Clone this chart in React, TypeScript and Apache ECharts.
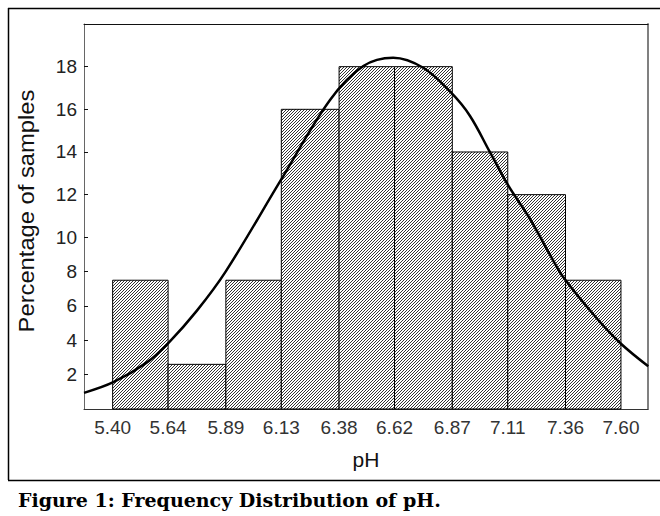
import React, { useEffect, useRef } from "react";
import * as echarts from "echarts";

// Histogram bins (pH class edges) and percentage of samples per bin
const binEdges = [5.4, 5.64, 5.89, 6.13, 6.38, 6.62, 6.87, 7.11, 7.36, 7.6];
const binPercent = [7.5, 2.6, 7.5, 16, 18, 18, 14, 12, 7.5];

// Fitted distribution curve
const curvePH = [5.276, 5.403, 5.547, 5.641, 5.763, 5.889, 6.131, 6.34, 6.485, 6.614, 6.744, 6.864, 6.946, 7.033, 7.112, 7.206, 7.292, 7.354, 7.494, 7.6, 7.718];
const curvePct = [0.94, 1.56, 2.7, 3.84, 5.7, 8.0, 12.74, 16.43, 18.03, 18.42, 17.95, 16.79, 15.7, 13.99, 12.43, 10.87, 9.0, 7.61, 5.3, 3.8, 2.49];

const yTicks = [2, 4, 6, 8, 10, 12, 14, 16, 18];
const yTop = 20;
const xMin = 5.276;
const xMax = 7.717;

// The original y axis is piecewise linear: 0-10 is compressed relative to 10-20
const BREAK = 10;
const LOWER_STEP = 17.25;
const UPPER_STEP = 21.43;
const warp = (v: number) => (v <= BREAK ? v * LOWER_STEP : BREAK * LOWER_STEP + (v - BREAK) * UPPER_STEP);
const unwarp = (u: number) => (u <= BREAK * LOWER_STEP ? u / LOWER_STEP : BREAK + (u - BREAK * LOWER_STEP) / UPPER_STEP);

export default function App() {
  const ref = useRef<HTMLDivElement>(null);
  useEffect(() => {
    const chart = echarts.init(ref.current!, null, { renderer: "svg" });
    const tile = document.createElement("canvas");
    tile.width = 3;
    tile.height = 3;
    const ctx = tile.getContext("2d")!;
    ctx.fillStyle = "#ffffff";
    ctx.fillRect(0, 0, 3, 3);
    ctx.fillStyle = "#333333";
    for (let i = 0; i < 3; i++) ctx.fillRect(i, 2 - i, 1, 1);
    const hatch: any = { image: tile, repeat: "repeat" };

    const tickU = yTicks.map(warp);
    const barData = binPercent.map((p, i) => [binEdges[i], binEdges[i + 1], warp(p)]);
    const lineData = curvePH.map((x, i) => [x, warp(curvePct[i])]);
    const font = '"Liberation Sans", Arial, Helvetica, sans-serif';

    const option: any = {
      animation: false,
      backgroundColor: "#ffffff",
      grid: { left: 84, right: 12, top: 24, bottom: 107, show: false },
      xAxis: [
        {
          type: "value",
          min: xMin,
          max: xMax,
          axisLine: { show: true, onZero: false, lineStyle: { color: "#333", width: 1 } },
          axisTick: { show: false },
          splitLine: { show: false },
          axisLabel: {
            customValues: binEdges,
            formatter: (v: number) => v.toFixed(2),
            fontSize: 19,
            color: "#333",
            fontFamily: font,
            margin: 9,
          },
          name: "pH",
          nameLocation: "middle",
          nameGap: 40,
          nameTextStyle: { fontSize: 21, color: "#111", fontFamily: font },
        },
        {
          type: "value",
          position: "top",
          min: xMin,
          max: xMax,
          axisLine: { show: true, onZero: false, lineStyle: { color: "#111", width: 1 } },
          axisTick: { show: false },
          axisLabel: { show: false },
          splitLine: { show: false },
        },
      ],
      yAxis: [
        {
          type: "value",
          min: 0,
          max: warp(yTop),
          axisLine: { show: true, onZero: false, lineStyle: { color: "#666", width: 1 } },
          axisTick: { show: true, inside: true, length: 4, customValues: tickU, lineStyle: { color: "#111" } },
          axisLabel: {
            customValues: tickU,
            formatter: (u: number) => String(Math.round(unwarp(u))),
            fontSize: 19,
            color: "#222",
            fontFamily: font,
            margin: 7,
            padding: [0, 0, 10, 0],
          },
          splitLine: { show: false },
        },
        {
          type: "value",
          position: "right",
          min: 0,
          max: warp(yTop),
          axisLine: { show: true, onZero: false, lineStyle: { color: "#808080", width: 2 } },
          axisTick: { show: false },
          axisLabel: { show: false },
          splitLine: { show: false },
        },
      ],
      series: [
        {
          type: "custom",
          data: barData,
          encode: { x: [0, 1], y: 2 },
          renderItem: (params: any, api: any) => {
            const p0 = api.coord([api.value(0), api.value(2)]);
            const p1 = api.coord([api.value(1), 0]);
            return {
              type: "rect",
              shape: { x: p0[0], y: p0[1], width: p1[0] - p0[0], height: p1[1] - p0[1] },
              style: { fill: hatch, stroke: "#000", lineWidth: 1 },
            };
          },
          z: 2,
        },
        {
          type: "line",
          data: lineData,
          smooth: 0.35,
          symbol: "none",
          lineStyle: { color: "#000", width: 2.5 },
          z: 3,
        },
      ],
      graphic: [
        {
          type: "text",
          x: 26,
          y: 211,
          rotation: Math.PI / 2,
          scaleX: 1.08,
          style: {
            text: "Percentage of samples",
            fontSize: 22,
            fontFamily: font,
            fill: "#111",
            align: "center",
            verticalAlign: "middle",
          },
        },
        {
          type: "text",
          x: 18,
          y: 500,
          style: {
            text: "Figure 1: Frequency Distribution of pH.",
            fontSize: 19,
            fontWeight: "bold",
            fontFamily: '"DejaVu Serif", serif',
            fill: "#000",
            align: "left",
            verticalAlign: "middle",
          },
        },
        { type: "line", shape: { x1: 8, y1: 8.5, x2: 660, y2: 8.5 }, style: { stroke: "#000", lineWidth: 1.5 } },
        { type: "line", shape: { x1: 8.5, y1: 8, x2: 8.5, y2: 480 }, style: { stroke: "#000", lineWidth: 1.5 } },
        { type: "line", shape: { x1: 8, y1: 480.5, x2: 660, y2: 480.5 }, style: { stroke: "#000", lineWidth: 1.5 } },
      ],
    };
    chart.setOption(option);
    return () => chart.dispose();
  }, []);
  return (
    <div
      ref={ref}
      style={{ position: "fixed", left: 0, top: 0, width: 660, height: 516, background: "#fff" }}
    />
  );
}
